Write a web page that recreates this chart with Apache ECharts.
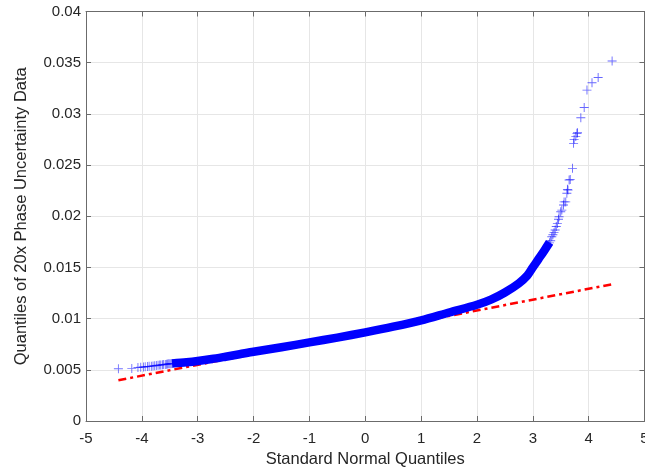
<!DOCTYPE html>
<html><head><meta charset="utf-8">
<script src="https://cdn.jsdelivr.net/npm/echarts@6/dist/echarts.min.js"></script>
<style>html,body{margin:0;padding:0;background:#fff}#c{width:645px;height:468px}</style>
</head><body><div id="c"></div>
<script>
// Dense central band of the QQ plot (standard normal quantile, data quantile)
const bandX = [-3.46,-3.2,-3.0,-2.75,-2.5,-2.25,-2.0,-1.5,-1.0,-0.5,0,0.5,1.0,1.5,2.0,2.25,2.5,2.75,2.9,3.0,3.1,3.2,3.3];
const bandY = [0.00562,0.00574,0.00586,0.00605,0.00628,0.00652,0.00677,0.0072,0.00768,0.00815,0.00866,0.00921,0.00983,0.0106,0.01135,0.01185,0.01255,0.01345,0.0142,0.0150,0.0158,0.0166,0.01745];
// Individually visible lower-tail markers
const lowX = [-4.42,-4.18,-4.07,-4.02,-3.97,-3.94,-3.90,-3.87,-3.83,-3.80,-3.77,-3.74,-3.71,-3.68,-3.66,-3.63,-3.61,-3.58,-3.56,-3.54,-3.52,-3.50,-3.48,-3.46];
const lowY = [0.0051,0.00514,0.00522,0.00525,0.00528,0.0053,0.00532,0.00534,0.00536,0.00538,0.0054,0.00542,0.00544,0.00546,0.00548,0.0055,0.00551,0.00553,0.00554,0.00556,0.00558,0.00559,0.0056,0.00562];
// Individually visible upper-tail markers
const highX = [3.28,3.30,3.32,3.34,3.36,3.38,3.40,3.42,3.44,3.46,3.47,3.50,3.52,3.55,3.56,3.59,3.61,3.62,3.63,3.65,3.67,3.71,3.73,3.74,3.77,3.79,3.80,3.86,3.92,3.97,4.06,4.17,4.42];
const highY = [0.0172,0.0174,0.0176,0.0180,0.0182,0.0184,0.01865,0.0190,0.0193,0.0197,0.01995,0.02044,0.0206,0.0211,0.0214,0.0214,0.02224,0.02263,0.02256,0.02354,0.0236,0.02468,0.02712,0.02751,0.0278,0.0281,0.02815,0.02962,0.03063,0.03232,0.03304,0.03356,0.03516];
// Reference line (through quartiles), endpoints
const refX = [-4.42, 4.42];
const refY = [0.00398, 0.01336];
// Axis ticks
const xTicks = [-5,-4,-3,-2,-1,0,1,2,3,4,5];
const yTickLabels = ['0','0.005','0.01','0.015','0.02','0.025','0.03','0.035','0.04'];

const zip = (a, b) => a.map((v, i) => [v, b[i]]);
const font = "'Liberation Sans', Arial, Helvetica, sans-serif";
const txt = '#262626';
const axisCol = '#6b6b6b';
const gridCol = '#e6e6e6';
const cross = 'path://M0,4.5H10V5.5H0Z M4.5,0H5.5V10H4.5Z';

const chart = echarts.init(document.getElementById('c'), null, {renderer: 'canvas'});
const baseX = {
  type: 'value', min: xTicks[0], max: xTicks[xTicks.length - 1], interval: 1
};
const baseY = {
  type: 'value', min: 0, max: 0.04, interval: 0.005
};
chart.setOption({
  animation: false,
  backgroundColor: '#ffffff',
  grid: {left: 86, right: 0.5, top: 11.5, bottom: 47, containLabel: false, outerBoundsMode: 'none'},
  xAxis: [
    Object.assign({}, baseX, {
      position: 'bottom',
      name: 'Standard Normal Quantiles', nameLocation: 'middle', nameGap: 30,
      nameTextStyle: {color: txt, fontSize: 16.5, fontFamily: font},
      axisLine: {show: true, onZero: false, lineStyle: {color: axisCol, width: 1}},
      axisTick: {show: true, inside: true, length: 5, lineStyle: {color: axisCol}},
      axisLabel: {color: txt, fontSize: 15, fontFamily: font, margin: 10,
        hideOverlap: false, formatter: v => String(v)},
      splitLine: {show: true, lineStyle: {color: gridCol, width: 1}}
    }),
    Object.assign({}, baseX, {
      position: 'top',
      axisLine: {show: true, onZero: false, lineStyle: {color: axisCol, width: 1}},
      axisTick: {show: true, inside: true, length: 5, lineStyle: {color: axisCol}},
      axisLabel: {show: false},
      splitLine: {show: false}
    })
  ],
  yAxis: [
    Object.assign({}, baseY, {
      position: 'left',
      name: 'Quantiles of 20x Phase Uncertainty Data', nameLocation: 'middle', nameGap: 56,
      nameRotate: 90,
      nameTextStyle: {color: txt, fontSize: 16.5, fontFamily: font},
      axisLine: {show: true, onZero: false, lineStyle: {color: axisCol, width: 1}},
      axisTick: {show: true, inside: true, length: 5, lineStyle: {color: axisCol}},
      axisLabel: {color: txt, fontSize: 15, fontFamily: font, margin: 5,
        formatter: (v, i) => yTickLabels[i]},
      splitLine: {show: true, lineStyle: {color: gridCol, width: 1}}
    }),
    Object.assign({}, baseY, {
      position: 'right',
      axisLine: {show: true, onZero: false, lineStyle: {color: axisCol, width: 1}},
      axisTick: {show: true, inside: true, length: 5, lineStyle: {color: axisCol}},
      axisLabel: {show: false},
      splitLine: {show: false}
    })
  ],
  series: [
    {
      type: 'line', data: zip(refX, refY), showSymbol: false,
      lineStyle: {color: '#ff0000', width: 2.5, type: [8, 4, 3, 4]},
      z: 2, silent: true
    },
    {
      type: 'line', data: zip(bandX, bandY), showSymbol: false, smooth: 0.3,
      lineStyle: {color: '#0000ff', width: 8.5, cap: 'butt', join: 'round'},
      z: 3, silent: true
    },
    {
      type: 'scatter', data: zip(lowX, lowY), symbol: cross, symbolSize: 9,
      itemStyle: {color: 'rgba(0,0,255,0.7)'}, z: 4, silent: true
    },
    {
      type: 'scatter', data: zip(highX, highY), symbol: cross, symbolSize: 9,
      itemStyle: {color: 'rgba(0,0,255,0.75)'}, z: 4, silent: true
    }
  ]
});
</script>
</body></html>
